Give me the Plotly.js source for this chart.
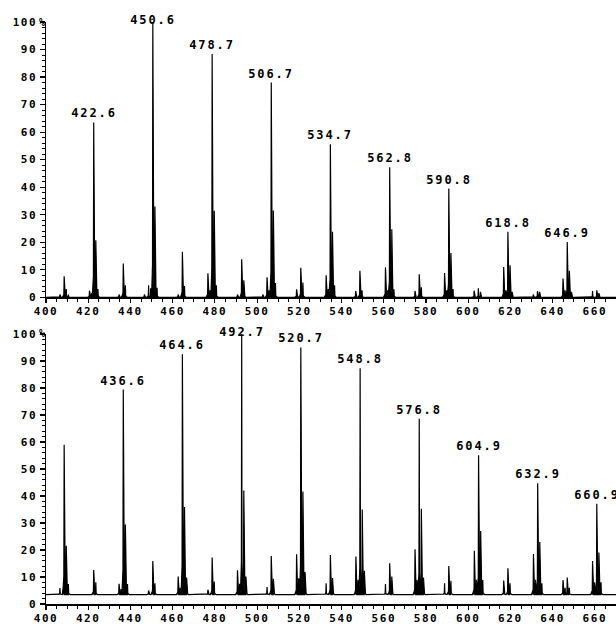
<!DOCTYPE html>
<html>
<head>
<meta charset="utf-8">
<script src="https://cdn.plot.ly/plotly-3.0.1.min.js"></script>
<style>
  html, body { margin: 0; padding: 0; background: #fff; }
  #chart { width: 616px; height: 625px; }
  #chart .xtick text, #chart .ytick text, #chart .x2tick text, #chart .y2tick text { letter-spacing: 1.6px; }
  #chart .annotation-text { letter-spacing: 1.9px; }
</style>
</head>
<body>
<div id="chart"></div>
<script>
// Upper spectrum: m/z and relative intensity (%)
const mzTop = [406.6, 408.6, 409.6, 410.6, 420.6, 421.6, 422.6, 423.6, 424.6,
  434.6, 436.6, 437.6, 446.6, 448.6, 449.6, 450.6, 451.6, 452.6,
  462.6, 464.6, 465.6, 476.7, 477.7, 478.7, 479.7, 480.7,
  490.7, 492.7, 493.7, 502.7, 504.7, 505.7, 506.7, 507.7, 508.7,
  518.7, 520.7, 521.7, 532.7, 533.7, 534.7, 535.7, 536.7,
  546.7, 548.7, 549.7, 560.8, 561.8, 562.8, 563.8, 564.8,
  574.8, 576.8, 577.8, 588.8, 589.8, 590.8, 591.8, 592.8,
  602.8, 604.8, 605.8, 616.8, 617.8, 618.8, 619.8, 620.8,
  630.8, 632.8, 633.8, 644.9, 645.9, 646.9, 647.9, 648.9,
  658.9, 660.9, 661.9];
const intTop = [1.0, 7.6, 3.0, 1.0, 2.4, 1.5, 63.5, 20.7, 3.0,
  1.0, 12.3, 4.4, 1.0, 4.4, 3.3, 100, 33, 3.5,
  1.0, 16.5, 4.1, 8.7, 2.5, 88.4, 31.4, 4.4,
  1.0, 13.8, 6.2, 1.0, 7.3, 2.5, 78, 31.5, 5.2,
  2.9, 10.7, 5.4, 8.0, 3.0, 55.6, 23.8, 4.4,
  2.3, 9.6, 2.5, 10.9, 2.5, 47.2, 24.7, 2.9,
  2.3, 8.4, 3.6, 8.8, 2.5, 39.5, 16.1, 3.0,
  2.4, 3.3, 2.0, 11.0, 2.5, 23.8, 11.6, 2.0,
  1.0, 2.2, 2.0, 6.8, 2.5, 20.1, 9.6, 2.0,
  2.3, 2.5, 1.5];
const labelsTop = [422.6, 450.6, 478.7, 506.7, 534.7, 562.8, 590.8, 618.8, 646.9];
const baseTop = 0;

// Lower spectrum: m/z and relative intensity (%)
const mzBottom = [406.6, 408.6, 409.6, 410.6, 422.6, 423.6,
  434.6, 435.6, 436.6, 437.6, 438.6, 448.6, 450.6, 451.6,
  462.6, 463.6, 464.6, 465.6, 466.6, 476.7, 478.7, 479.7,
  490.7, 491.7, 492.7, 493.7, 494.7, 504.7, 506.7, 507.7,
  518.7, 519.7, 520.7, 521.7, 522.7, 532.7, 534.7, 535.7,
  546.8, 547.8, 548.8, 549.8, 550.8, 560.8, 562.8, 563.8,
  574.8, 575.8, 576.8, 577.8, 578.8, 588.8, 590.8, 591.8,
  602.9, 603.9, 604.9, 605.9, 606.9, 616.8, 618.8, 619.8,
  630.9, 631.9, 632.9, 633.9, 634.9, 644.9, 645.9, 646.9, 647.9,
  658.9, 659.9, 660.9, 661.9, 662.9];
const intBottom = [5.9, 59, 21.6, 7.4, 12.6, 8.0,
  7.5, 5.5, 79.4, 29.4, 7.4, 5.0, 15.9, 7.7,
  10.2, 6.0, 92.5, 35.9, 9.8, 5.3, 17.2, 8.3,
  12.5, 7.5, 100, 42, 10.2, 6.3, 17.8, 9.3,
  18.4, 9.5, 95, 41.7, 11.8, 7.7, 18.1, 9.6,
  17.6, 9.0, 87.3, 35, 12.3, 7.4, 15.1, 10.2,
  20.3, 9.0, 68.6, 35.3, 9.8, 7.7, 14.1, 8.6,
  19.7, 9.0, 55.1, 27, 8.9, 8.7, 13.2, 7.7,
  18.5, 9.0, 44.7, 23, 7.7, 8.9, 6.0, 9.8, 6.0,
  15.9, 8.0, 37.1, 19.1, 8.0];
const labelsBottom = [436.6, 464.6, 492.7, 520.7, 548.8, 576.8, 604.9, 632.9, 660.9];
const baseBottom = 3.5;

const xRange = [400, 670];
const FONT = "DejaVu Sans Mono, Liberation Mono, monospace";

// Turn a peak list into a closed profile outline sitting on its baseline
function profile(mz, inten, base) {
  const order = mz.map((m, i) => i).sort((a, b) => mz[a] - mz[b]);
  const xs = [xRange[0]], ys = [base];
  order.forEach(i => {
    const m = mz[i], h = inten[i];
    const d = h - base;
    const foot = base + Math.min(0.05 * d, 2.5);
    const skirt = base + 0.12 * d;
    xs.push(m - 0.9, m - 0.5, m - 0.15, m, m + 0.15, m + 0.5, m + 0.9);
    ys.push(base, foot, skirt, h, skirt, foot, base);
  });
  xs.push(xRange[1]);
  ys.push(base);
  return { xs, ys };
}

function spectrumTrace(mz, inten, base, xa, ya) {
  const p = profile(mz, inten, base);
  return {
    x: p.xs, y: p.ys, xaxis: xa, yaxis: ya,
    type: 'scatter', mode: 'lines',
    line: { color: '#000', width: 1.2 },
    fill: 'toself', fillcolor: '#000',
    hoverinfo: 'skip', showlegend: false, cliponaxis: false
  };
}

function peakLabels(labels, mz, inten, xref, yref) {
  return labels.map(m => {
    const i = mz.indexOf(m);
    return {
      x: m, y: Math.min(inten[i], 97.5), xref: xref, yref: yref,
      text: m.toFixed(1), showarrow: false,
      xanchor: 'center', yanchor: 'bottom', yshift: 0,
      font: { family: FONT, size: 12, weight: 'bold', color: '#000' }
    };
  });
}

function xAxis(anchor) {
  return {
    anchor: anchor, domain: [0, 1], range: xRange,
    showline: true, linecolor: '#000', linewidth: 1.5,
    ticks: 'outside', ticklen: 4, tickwidth: 1.2, tickcolor: '#000',
    tick0: 400, dtick: 20, ticklabelstandoff: -1,
    minor: { ticks: 'outside', dtick: 5, ticklen: 3, tickwidth: 1, tickcolor: '#000' },
    showgrid: false, zeroline: false, fixedrange: true,
    tickfont: { family: FONT, size: 11, weight: 'bold', color: '#000' }
  };
}

function yAxis(anchor, domain) {
  return {
    anchor: anchor, domain: domain, range: [0, 100],
    showline: true, linecolor: '#000', linewidth: 1.5,
    ticks: 'outside', ticklen: 5, tickwidth: 1.2, tickcolor: '#000',
    tick0: 0, dtick: 10,
    minor: { ticks: 'outside', dtick: 2, ticklen: 2.5, tickwidth: 1, tickcolor: '#000' },
    showgrid: false, zeroline: false, fixedrange: true,
    tickfont: { family: FONT, size: 11, weight: 'bold', color: '#000' }
  };
}

const traces = [
  spectrumTrace(mzTop, intTop, baseTop, 'x', 'y'),
  spectrumTrace(mzBottom, intBottom, baseBottom, 'x2', 'y2')
];

const percentMarks = ['y', 'y2'].map(ya => ({
  x: 0, xref: (ya === 'y' ? 'x' : 'x2') + ' domain', y: 100, yref: ya,
  text: '%', showarrow: false, xanchor: 'center', yanchor: 'middle', xshift: -3,
  font: { family: FONT, size: 10, weight: 'bold', color: '#000' }
}));

const layout = {
  width: 616, height: 625,
  margin: { l: 46, r: 0, t: 22, b: 21 },
  paper_bgcolor: '#fff', plot_bgcolor: '#fff',
  xaxis: xAxis('y'),
  yaxis: yAxis('x', [0.527, 1]),
  xaxis2: xAxis('y2'),
  yaxis2: yAxis('x2', [0, 0.464]),
  annotations: peakLabels(labelsTop, mzTop, intTop, 'x', 'y')
    .concat(peakLabels(labelsBottom, mzBottom, intBottom, 'x2', 'y2'))
    .concat(percentMarks),
  showlegend: false
};

Plotly.newPlot('chart', traces, layout, { staticPlot: true, displayModeBar: false });
</script>
</body>
</html>
